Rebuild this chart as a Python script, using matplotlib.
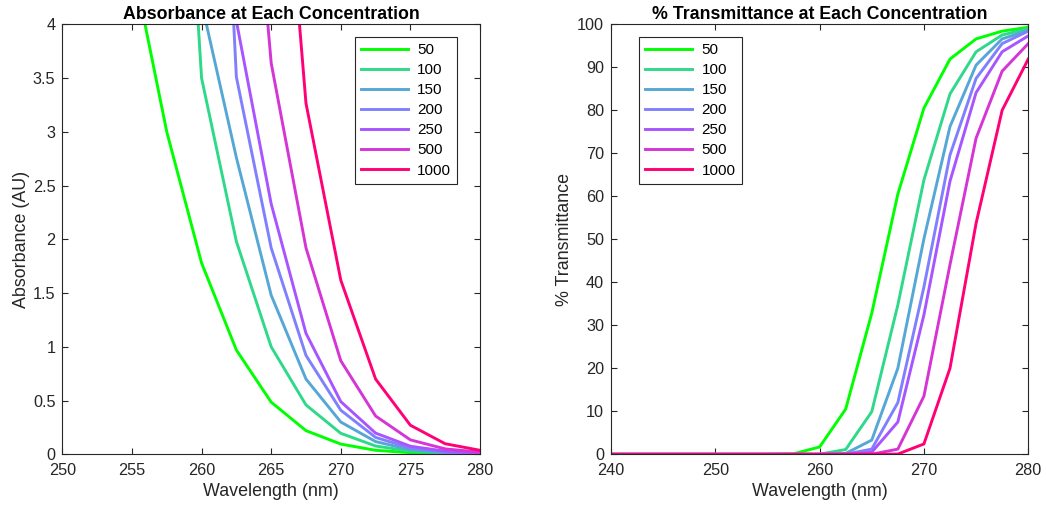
import numpy as np
import matplotlib.pyplot as plt

plt.rcParams['font.family'] = ['Liberation Sans', 'DejaVu Sans']
plt.rcParams['font.size'] = 11.7

wavelength = [240, 242.5, 245, 247.5, 250, 252.5, 255, 257.5, 260,
              262.5, 265, 267.5, 270, 272.5, 275, 277.5, 280]
labels = ["50", "100", "150", "200", "250", "500", "1000"]

colors = ["#00FF00", "#2ED98A", "#55A8D5", "#8080FF",
          "#A855FF", "#D535D5", "#FF0077"]

# absorbance (values above 4 are off-scale guesses)
absorbance = [
    [30, 30, 30, 30, 20, 8, 4.6, 3.0, 1.78, 0.97, 0.485, 0.22, 0.095, 0.037, 0.015, 0.007, 0.003],
    [30, 30, 30, 30, 30, 30, 30, 8.7, 3.5, 1.98, 1.0, 0.459, 0.195, 0.077, 0.029, 0.011, 0.004],
    [30, 30, 30, 30, 30, 30, 30, 20, 4.2, 2.76, 1.48, 0.70, 0.30, 0.118, 0.043, 0.015, 0.006],
    [30, 30, 30, 30, 30, 30, 30, 30, 10, 3.51, 1.92, 0.92, 0.41, 0.157, 0.058, 0.02, 0.007],
    [30, 30, 30, 30, 30, 30, 30, 30, 12, 4.03, 2.33, 1.125, 0.49, 0.197, 0.075, 0.029, 0.012],
    [30, 30, 30, 30, 30, 30, 30, 30, 30, 7.4, 3.64, 1.92, 0.87, 0.356, 0.134, 0.05, 0.02],
    [30, 30, 30, 30, 30, 30, 30, 30, 30, 30, 7.2, 3.265, 1.62, 0.70, 0.27, 0.098, 0.037],
]

# percent transmittance
transmittance = [
    [0, 0, 0, 0, 0, 0, 0, 0.1, 1.7, 10.5, 32.8, 60.5, 80.5, 91.9, 96.6, 98.4, 99.3],
    [0, 0, 0, 0, 0, 0, 0, 0, 0.03, 1.1, 9.9, 34.7, 63.8, 83.8, 93.6, 97.5, 99.0],
    [0, 0, 0, 0, 0, 0, 0, 0, 0, 0.2, 3.3, 20.0, 50.1, 76.2, 90.5, 96.6, 98.6],
    [0, 0, 0, 0, 0, 0, 0, 0, 0, 0.03, 1.2, 12.0, 38.9, 69.6, 87.4, 95.5, 98.4],
    [0, 0, 0, 0, 0, 0, 0, 0, 0, 0, 0.47, 7.5, 32.4, 63.5, 84.1, 93.6, 97.3],
    [0, 0, 0, 0, 0, 0, 0, 0, 0, 0, 0.02, 1.2, 13.5, 44.1, 73.5, 89.1, 95.5],
    [0, 0, 0, 0, 0, 0, 0, 0, 0, 0, 0, 0.05, 2.4, 20.0, 53.7, 80.0, 91.9],
]

fig = plt.figure(figsize=(10.46, 5.09), dpi=100)
ax1 = fig.add_axes([0.0596, 0.1075, 0.3993, 0.8448])
ax2 = fig.add_axes([0.5841, 0.1075, 0.3989, 0.8448])

for k in range(len(labels)):
    ax1.plot(wavelength, absorbance[k], color=colors[k], lw=2.1, label=labels[k])
    ax2.plot(wavelength, transmittance[k], color=colors[k], lw=2.1, label=labels[k])

ax1.set_xlim(250, 280)
ax1.set_ylim(0, 4)
ax1.set_xticks(np.arange(250, 281, 5))
ax1.set_yticks(np.arange(0, 4.01, 0.5))
ax1.set_yticklabels(["0", "0.5", "1", "1.5", "2", "2.5", "3", "3.5", "4"])
ax1.set_title("Absorbance at Each Concentration", fontweight="bold",
              fontsize=12.8, pad=4)
ax1.set_xlabel("Wavelength (nm)", fontsize=12.9, labelpad=4)
ax1.set_ylabel("Absorbance (AU)", fontsize=12.9, labelpad=2)

ax2.set_xlim(240, 280)
ax2.set_ylim(0, 100)
ax2.set_xticks(np.arange(240, 281, 10))
ax2.set_yticks(np.arange(0, 101, 10))
ax2.set_title("% Transmittance at Each Concentration", fontweight="bold",
              fontsize=12.8, pad=4)
ax2.set_xlabel("Wavelength (nm)", fontsize=12.9, labelpad=4)
ax2.set_ylabel("% Transmittance", fontsize=12.9, labelpad=3)

for ax in [ax1, ax2]:
    ax.tick_params(direction="in", top=True, right=True, length=4,
                   color="#262626", labelcolor="#262626")
    ax.tick_params(axis="x", pad=6)
    ax.tick_params(axis="y", pad=5)
    for s in ax.spines.values():
        s.set_color("#262626")
        s.set_linewidth(0.8)
    ax.xaxis.label.set_color("#262626")
    ax.yaxis.label.set_color("#262626")

leg1 = ax1.legend(loc="upper right", bbox_to_anchor=(0.9457, 0.971),
                  borderaxespad=0, fontsize=11, handlelength=3.1,
                  labelspacing=0.4, handletextpad=0.6, fancybox=False,
                  framealpha=1, edgecolor="#262626")
leg2 = ax2.legend(loc="upper left", bbox_to_anchor=(0.067, 0.971),
                  borderaxespad=0, fontsize=11, handlelength=3.1,
                  labelspacing=0.4, handletextpad=0.6, fancybox=False,
                  framealpha=1, edgecolor="#262626")
for leg in [leg1, leg2]:
    leg.get_frame().set_linewidth(0.8)

plt.savefig("out.png", dpi=100)
